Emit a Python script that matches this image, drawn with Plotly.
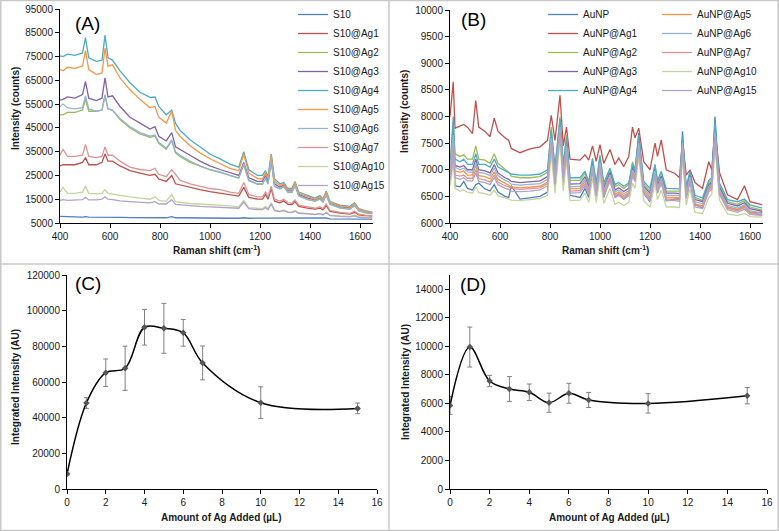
import plotly.graph_objects as go

W, H = 779, 531
FONT = "Arial, 'Liberation Sans', Helvetica, sans-serif"
TXT = "#1a1a1a"

# ---------------- Panel A: S10 spectra ----------------
a_shift = [400, 412, 430, 460, 490, 502, 515, 545, 568, 580, 592, 610, 640, 680, 720, 760, 780, 795,
           825, 847, 862, 880, 920, 960, 1000, 1040, 1080, 1115, 1135, 1155, 1190, 1210, 1222, 1232,
           1245, 1258, 1280, 1295, 1312, 1328, 1340, 1355, 1390, 1420, 1440, 1452, 1465, 1480, 1520,
           1560, 1578, 1595, 1620, 1650]
a_names = ["S10", "S10@Ag1", "S10@Ag2", "S10@Ag3", "S10@Ag4", "S10@Ag5", "S10@Ag6", "S10@Ag7",
           "S10@Ag10", "S10@Ag15"]
a_s10 = [7800, 7700, 7600, 7600, 7500, 7700, 7500, 7500, 7500, 7700, 7500, 7500, 7400, 7300, 7300, 7300,
         7300, 7200, 7200, 7700, 7200, 7200, 7100, 7100, 7000, 7000, 7000, 7000, 7200, 7000, 7000, 6900,
         6900, 6900, 7000, 6900, 6900, 6900, 6800, 6800, 6900, 6800, 6800, 6800, 6800, 6800, 7100, 6700,
         6600, 6600, 6600, 6600, 6600, 6600]
a_ag1 = [29000, 29500, 29500, 29500, 30500, 32500, 29500, 29500, 30500, 34000, 31000, 31000, 29000, 27000,
         26000, 25000, 25500, 23500, 22500, 25000, 21500, 21000, 20000, 19000, 18200, 17500, 16800, 16300,
         20000, 15800, 15000, 15000, 17000, 15000, 19500, 14200, 13500, 14300, 12800, 12700, 14000, 12000,
         11300, 10800, 11300, 10500, 12300, 9900, 9200, 8700, 9500, 8400, 8100, 7900]
a_ag2 = [50500, 50500, 51500, 51500, 52500, 57000, 52000, 52000, 52500, 58500, 53000, 52500, 48500, 45000,
         42500, 41000, 41500, 38500, 36000, 39500, 34500, 33000, 30500, 28800, 27300, 26300, 24800, 23800,
         29500, 22800, 21300, 21300, 23800, 21300, 31000, 20300, 19300, 20300, 17800, 17800, 20800, 16300,
         14800, 14100, 15000, 13800, 16800, 12800, 11300, 10800, 12300, 10100, 9300, 8900]
a_ag3 = [56700, 57000, 58000, 57500, 59000, 64500, 57500, 56500, 57500, 66000, 58000, 58500, 54000, 49500,
         47000, 44500, 45500, 41500, 39500, 43000, 37000, 36000, 33500, 31000, 29000, 27500, 26000, 25000,
         30500, 24000, 22500, 22500, 25000, 22500, 32500, 21500, 20000, 21000, 18500, 18500, 21500, 17000,
         15500, 14700, 15500, 14300, 17500, 13300, 11800, 11300, 12800, 10500, 9700, 9200]
a_ag4 = [75300, 75000, 76000, 75500, 76500, 83000, 74500, 73000, 73500, 84000, 74500, 73500, 69000, 64000,
         60000, 57800, 58000, 54000, 50500, 52500, 47000, 44000, 40000, 37000, 34000, 32000, 29800, 28500,
         35000, 27500, 25000, 25000, 27000, 24500, 34000, 23500, 21500, 22000, 19500, 19500, 22500, 18000,
         16500, 15500, 16500, 15000, 18500, 14000, 12500, 12000, 13500, 11000, 10200, 9600]
a_ag5 = [69500, 69000, 70500, 70000, 71000, 77500, 69500, 67500, 68000, 78500, 71000, 71500, 66000, 61000,
         57000, 53500, 54000, 49500, 47000, 52000, 44000, 41500, 37500, 34500, 32000, 30000, 28000, 27000,
         34000, 26000, 23800, 23500, 26000, 23500, 33500, 22500, 20800, 21500, 19000, 19000, 22000, 17500,
         16000, 15000, 16000, 14700, 18000, 13700, 12200, 11700, 13200, 10800, 10000, 9400]
a_ag6 = [54000, 55000, 53500, 53000, 53500, 58500, 53000, 52000, 52500, 59000, 53000, 52500, 49000, 45500,
         43000, 41500, 42000, 39000, 36500, 40000, 35000, 33500, 31000, 29000, 27500, 26500, 25000, 24000,
         30000, 23000, 21500, 21500, 24000, 21500, 31500, 20500, 19500, 20500, 18000, 18000, 21000, 16500,
         15000, 14300, 15200, 14000, 17000, 13000, 11500, 11000, 12500, 10300, 9500, 9000]
a_ag7 = [33500, 36000, 33000, 33000, 33500, 38000, 33000, 32500, 33000, 37000, 33500, 33500, 31000, 28500,
         27500, 27000, 28000, 25500, 24500, 27500, 25500, 23000, 21500, 20500, 19500, 19000, 18000, 17500,
         22000, 17000, 16000, 16000, 18000, 16000, 20500, 15000, 14200, 15000, 13500, 13300, 14800, 12500,
         11800, 11200, 11800, 11000, 13000, 10300, 9500, 9000, 10000, 8700, 8300, 8200]
a_ag10 = [18000, 20000, 17500, 17500, 18000, 20500, 17500, 17300, 17500, 19000, 17500, 17200, 16500, 16000,
          15500, 15000, 16000, 14500, 14200, 17000, 14000, 13700, 13200, 13000, 12800, 12500, 12200, 11800,
          14500, 11500, 11000, 11000, 12000, 11000, 13500, 10500, 10000, 10500, 9700, 9600, 10300, 9300,
          9000, 8700, 9000, 8600, 9600, 8300, 8000, 7800, 8300, 7700, 7500, 7400]
a_ag15 = [14500, 14800, 14500, 14500, 14800, 15800, 14700, 14700, 15000, 16000, 15000, 14800, 14300, 14000,
          13700, 13500, 14000, 13000, 13000, 14800, 12800, 12600, 12300, 12000, 11800, 11600, 11400, 11200,
          13800, 11000, 10600, 10600, 11500, 10600, 13000, 10200, 9800, 10200, 9500, 9400, 10000, 9100,
          8800, 8500, 8800, 8400, 9300, 8100, 7800, 7600, 8000, 7400, 7200, 7100]
a_series = [a_s10, a_ag1, a_ag2, a_ag3, a_ag4, a_ag5, a_ag6, a_ag7, a_ag10, a_ag15]

# ---------------- Panel B: AuNP spectra ----------------
b_shift = [400, 407, 413, 420, 440, 455, 470, 490, 503, 515, 540, 560, 577, 592, 620, 635, 645, 680, 720,
           760, 790, 805, 820, 840, 853, 866, 880, 920, 940, 955, 970, 985, 1000, 1015, 1040, 1060, 1075,
           1095, 1115, 1130, 1140, 1155, 1175, 1200, 1220, 1230, 1245, 1265, 1300, 1318, 1330, 1345, 1360,
           1380, 1410, 1435, 1447, 1460, 1478, 1510, 1550, 1578, 1600, 1650]
b_names = ["AuNP", "AuNP@Ag1", "AuNP@Ag2", "AuNP@Ag3", "AuNP@Ag4", "AuNP@Ag5", "AuNP@Ag6", "AuNP@Ag7",
           "AuNP@Ag10", "AuNP@Ag15"]
b_aunp = [6800, 7300, 7800, 6700, 6680, 6780, 6650, 6620, 6720, 6750, 6640, 6600, 6720, 6580, 6500, 6480,
          6700, 6450, 6480, 6500, 6580, 7700, 6650, 7850, 6700, 7500, 6520, 6480, 6650, 6480, 7100, 6500,
          7200, 6480, 6850, 6500, 6530, 6450, 6550, 6950, 6900, 7690, 6560, 6400, 6950, 6560, 6850, 6420,
          6450, 6460, 7720, 6500, 6850, 6350, 6280, 6650, 6750, 8000, 6600, 6300, 6250, 6320, 6200, 6200]
b_ag1 = [8000, 8300, 8650, 7780, 7820, 7850, 7800, 7680, 8300, 7800, 7720, 7620, 7970, 7720, 7600, 7550,
         7400, 7320, 7390, 7430, 7550, 8020, 7550, 8400, 7450, 7800, 7200, 7180, 7280, 7180, 7450, 7160,
         7470, 7120, 7380, 7100, 7220, 7060, 7250, 7800, 7600, 7780, 7150, 7000, 7500, 7250, 7560, 7000,
         6930, 6850, 7550, 6900, 7000, 6760, 6650, 7150, 7000, 7750, 6950, 6530, 6440, 6700, 6400, 6340]
b_ag2 = [7050, 7600, 7900, 7300, 7250, 7280, 7200, 7200, 7450, 7200, 7180, 7120, 7300, 7120, 7000, 6950,
         6880, 6850, 6850, 6870, 6950, 7800, 7000, 8000, 7050, 7650, 6800, 6800, 6930, 6740, 7220, 6720,
         7280, 6700, 7000, 6680, 6720, 6650, 6720, 7150, 7000, 7600, 6740, 6600, 7080, 6760, 6950, 6600,
         6600, 6600, 7500, 6640, 6950, 6480, 6420, 6760, 6800, 7750, 6700, 6400, 6350, 6420, 6300, 6240]
b_ag3 = [6950, 7300, 7700, 7080, 7050, 7080, 7000, 7000, 7200, 7000, 6980, 6940, 7100, 6940, 6850, 6820,
         6780, 6760, 6770, 6790, 6870, 7650, 6920, 7850, 6980, 7500, 6730, 6740, 6870, 6680, 7120, 6660,
         7180, 6650, 6950, 6620, 6660, 6590, 6650, 7050, 6930, 7550, 6690, 6560, 7020, 6710, 6880, 6560,
         6560, 6550, 7550, 6600, 6900, 6440, 6400, 6720, 6770, 7800, 6670, 6370, 6320, 6380, 6270, 6220]
b_ag4 = [7000, 7500, 8000, 7200, 7150, 7200, 7100, 7100, 7300, 7100, 7100, 7050, 7200, 7050, 6980, 6950,
         6920, 6900, 6900, 6920, 7000, 7750, 7050, 7950, 7100, 7600, 6850, 6850, 6970, 6780, 7200, 6760,
         7250, 6750, 7030, 6720, 6760, 6690, 6750, 7100, 7000, 7650, 6780, 6650, 7100, 6800, 6970, 6650,
         6650, 6640, 7650, 6680, 6980, 6520, 6470, 6800, 6850, 7900, 6750, 6440, 6400, 6450, 6340, 6280]
b_ag5 = [6900, 7200, 7500, 6980, 6950, 6980, 6900, 6900, 7080, 6890, 6870, 6830, 6960, 6820, 6740, 6710,
         6680, 6660, 6670, 6690, 6770, 7550, 6820, 7750, 6880, 7400, 6640, 6650, 6780, 6590, 7050, 6580,
         7100, 6570, 6860, 6540, 6580, 6510, 6570, 6960, 6850, 7450, 6610, 6480, 6940, 6630, 6800, 6480,
         6480, 6470, 7450, 6520, 6820, 6360, 6320, 6640, 6690, 7650, 6590, 6300, 6250, 6310, 6200, 6160]
b_ag6 = [6980, 7400, 7650, 7050, 7000, 7030, 6960, 6950, 7120, 6950, 6930, 6890, 7030, 6890, 6800, 6770,
         6730, 6710, 6720, 6740, 6820, 7600, 6870, 7800, 6930, 7450, 6680, 6690, 6820, 6630, 7080, 6620,
         7140, 6610, 6900, 6580, 6620, 6550, 6610, 7000, 6890, 7500, 6650, 6520, 6980, 6670, 6840, 6520,
         6520, 6510, 7500, 6560, 6860, 6400, 6360, 6680, 6730, 7700, 6630, 6330, 6280, 6340, 6230, 6180]
b_ag7 = [6850, 7100, 7400, 6900, 6880, 6900, 6840, 6840, 7000, 6830, 6810, 6770, 6900, 6770, 6700, 6680,
         6650, 6630, 6640, 6660, 6740, 7500, 6780, 7700, 6840, 7350, 6600, 6610, 6740, 6560, 7000, 6550,
         7060, 6540, 6820, 6510, 6550, 6480, 6540, 6920, 6810, 7400, 6580, 6450, 6900, 6600, 6770, 6450,
         6450, 6440, 7400, 6490, 6790, 6330, 6300, 6610, 6660, 7600, 6560, 6280, 6230, 6290, 6180, 6150]
b_ag10 = [6700, 6900, 7200, 6650, 6600, 6620, 6580, 6560, 6680, 6570, 6550, 6520, 6620, 6510, 6470, 6450,
          6430, 6420, 6440, 6460, 6520, 7300, 6560, 7550, 6600, 7200, 6420, 6430, 6560, 6390, 6850, 6380,
          6900, 6370, 6650, 6350, 6390, 6330, 6390, 6750, 6650, 7250, 6420, 6300, 6750, 6440, 6620, 6300,
          6300, 6290, 7250, 6340, 6640, 6200, 6180, 6480, 6530, 7450, 6430, 6170, 6140, 6180, 6120, 6110]
b_ag15 = [6820, 7000, 7300, 6850, 6820, 6850, 6790, 6790, 6940, 6780, 6760, 6720, 6850, 6720, 6650, 6630,
          6600, 6590, 6600, 6620, 6700, 7450, 6740, 7650, 6800, 7300, 6560, 6570, 6700, 6520, 6960, 6510,
          7020, 6500, 6780, 6480, 6520, 6450, 6510, 6880, 6780, 7350, 6550, 6420, 6860, 6570, 6740, 6420,
          6420, 6410, 7350, 6460, 6760, 6300, 6270, 6580, 6630, 7550, 6530, 6250, 6200, 6260, 6160, 6140]
b_series = [b_aunp, b_ag1, b_ag2, b_ag3, b_ag4, b_ag5, b_ag6, b_ag7, b_ag10, b_ag15]

# ---------------- Panels C and D: integrated intensity ----------------
ag_added = [0, 1, 2, 3, 4, 5, 6, 7, 10, 15]
c_intensity = [8400, 48200, 65200, 67700, 90700, 90100, 87600, 70700, 48400, 45200]
c_error = [600, 3000, 7700, 12400, 10000, 14000, 7500, 9500, 8900, 3000]
d_intensity = [5850, 9950, 7570, 7010, 6780, 6050, 6710, 6240, 6000, 6540]
d_error = [620, 1400, 400, 870, 580, 670, 700, 530, 680, 570]

series_colors = ["#4F81BD", "#C0504D", "#9BBB59", "#8064A2", "#4BACC6", "#F79646",
                 "#95B3D7", "#D99694", "#C3D69B", "#B3A2C7"]

for s in a_series:
    assert len(s) == len(a_shift), len(s)
for s in b_series:
    assert len(s) == len(b_shift), len(s)

fig = go.Figure()

for name, ys, col in zip(a_names, a_series, series_colors):
    fig.add_trace(go.Scatter(x=a_shift, y=ys, mode="lines", name=name,
                             line=dict(color=col, width=1.3), xaxis="x", yaxis="y",
                             legend="legend"))

for i, (name, ys, col) in enumerate(zip(b_names, b_series, series_colors)):
    fig.add_trace(go.Scatter(x=b_shift, y=ys, mode="lines", name=name,
                             line=dict(color=col, width=1.3), xaxis="x2", yaxis="y2",
                             legend="legend2" if i < 5 else "legend3"))

for ys, err, xa, ya in [(c_intensity, c_error, "x3", "y3"), (d_intensity, d_error, "x4", "y4")]:
    fig.add_trace(go.Scatter(x=ag_added, y=ys, mode="lines+markers", showlegend=False,
                             line=dict(color="black", width=1.5, shape="spline", smoothing=1),
                             marker=dict(symbol="diamond", size=5, color="#555555"),
                             error_y=dict(type="data", array=err, color="#808080", thickness=1, width=2.5),
                             xaxis=xa, yaxis=ya))


def px_x(p):
    return p / W


def px_y(p):
    return 1 - p / H


axis_base = dict(showline=True, linecolor="black", linewidth=1, ticks="outside", ticklen=4,
                 tickcolor="black", tickwidth=1, showgrid=False, zeroline=False, automargin=False,
                 tickfont=dict(size=10, color=TXT, family=FONT), tickformat="d")

fig.update_layout(
    template="none",
    width=W, height=H, autosize=False,
    margin=dict(l=0, r=0, t=0, b=0, autoexpand=False),
    paper_bgcolor="white", plot_bgcolor="white",
    font=dict(family=FONT, color=TXT, size=10),
    xaxis=dict(axis_base, domain=[px_x(60), px_x(372.5)], range=[400, 1650], tickvals=list(range(400, 1601, 200)),
               anchor="y"),
    yaxis=dict(axis_base, domain=[px_y(223), px_y(9)], range=[5000, 95000], dtick=10000, tick0=5000,
               anchor="x"),
    xaxis2=dict(axis_base, domain=[px_x(450), px_x(762.5)], range=[400, 1650], tickvals=list(range(400, 1601, 200)),
                anchor="y2"),
    yaxis2=dict(axis_base, domain=[px_y(223), px_y(10)], range=[6000, 10000], dtick=500, tick0=6000,
                anchor="x2"),
    xaxis3=dict(axis_base, domain=[px_x(67), px_x(377)], range=[0, 16], dtick=2, tick0=0, anchor="y3"),
    yaxis3=dict(axis_base, domain=[px_y(489), px_y(275)], range=[0, 120000], dtick=20000, tick0=0, anchor="x3"),
    xaxis4=dict(axis_base, domain=[px_x(450), px_x(767)], range=[0, 16], dtick=2, tick0=0, anchor="y4"),
    yaxis4=dict(axis_base, domain=[px_y(489), px_y(275)], range=[0, 15000], dtick=2000, tick0=0, anchor="x4"),
    legend=dict(x=px_x(293), y=1.0, xanchor="left", yanchor="top", bgcolor="rgba(0,0,0,0)",
                font=dict(size=10, color=TXT, family=FONT)),
    legend2=dict(x=px_x(543), y=1.0, xanchor="left", yanchor="top", bgcolor="rgba(0,0,0,0)",
                 font=dict(size=10, color=TXT, family=FONT)),
    legend3=dict(x=px_x(657), y=1.0, xanchor="left", yanchor="top", bgcolor="rgba(0,0,0,0)",
                 font=dict(size=10, color=TXT, family=FONT)),
    showlegend=True,
)

# panel labels
labels = [("(A)", 87, 23), ("(B)", 473, 20), ("(C)", 88, 283), ("(D)", 473, 284)]
for t, x, y in labels:
    fig.add_annotation(text=t, x=px_x(x), y=px_y(y), xref="paper", yref="paper", showarrow=False,
                       xanchor="center", yanchor="middle", font=dict(size=19, color="black", family=FONT))

# axis titles
axis_titles = [
    ("Raman shift (cm<sup>-1</sup>)", 216, 250, 0),
    ("Intensity (counts)", 15, 109, -90),
    ("Raman shift (cm<sup>-1</sup>)", 605, 250, 0),
    ("Intensity (counts)", 405, 112, -90),
    ("Amount of Ag Added (µL)", 221, 517, 0),
    ("Integrated Intensity (AU)", 16, 387, -90),
    ("Amount of Ag Added (µL)", 609, 517, 0),
    ("Integrated Intensity (AU)", 405, 382, -90),
]
for t, x, y, ang in axis_titles:
    fig.add_annotation(text="<b>" + t + "</b>", x=px_x(x), y=px_y(y), xref="paper", yref="paper",
                       showarrow=False, xanchor="center", yanchor="middle", textangle=ang,
                       font=dict(size=10, color=TXT, family=FONT))

frame = dict(color="#c8c8c8", width=1.5)
fig.add_shape(type="line", xref="paper", yref="paper", x0=px_x(389), x1=px_x(389), y0=0, y1=1, line=frame)
fig.add_shape(type="line", xref="paper", yref="paper", x0=0, x1=1, y0=px_y(264), y1=px_y(264), line=frame)
fig.add_shape(type="rect", xref="paper", yref="paper", x0=0.001, x1=0.999, y0=0.001, y1=0.999, line=frame)

fig.write_html("out.html", config={"displayModeBar": False},
               post_script="document.body.style.margin='0';document.body.style.overflow='hidden';")
